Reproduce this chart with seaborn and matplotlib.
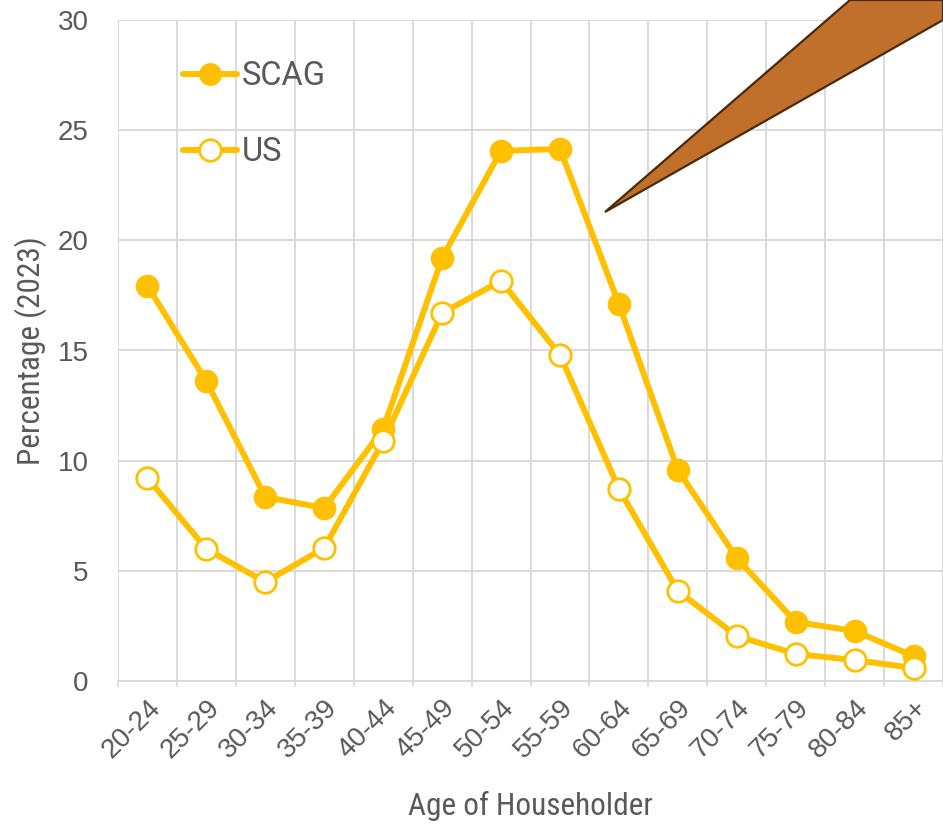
import matplotlib
matplotlib.use("Agg")
import matplotlib.pyplot as plt
from matplotlib.patches import Polygon
from matplotlib.lines import Line2D
import seaborn as sns
import pandas as pd

age_groups = ["20-24", "25-29", "30-34", "35-39", "40-44", "45-49", "50-54",
              "55-59", "60-64", "65-69", "70-74", "75-79", "80-84", "85+"]
scag = [17.93, 13.6, 8.35, 7.85, 11.44, 19.2, 24.06, 24.15, 17.11, 9.58, 5.58, 2.68, 2.27, 1.13]
us = [9.21, 5.99, 4.49, 6.04, 10.89, 16.7, 18.16, 14.8, 8.72, 4.09, 2.04, 1.23, 0.95, 0.59]
y_ticks = [0, 5, 10, 15, 20, 25, 30]

sns.set_theme(style="white")
plt.rcParams['font.family'] = ['Liberation Sans', 'DejaVu Sans']

gold = "#FFC000"
txt = "#595959"
grid = "#D9D9D9"
LW = 4.3
MS = 15.5

fig = plt.figure(figsize=(9.43, 8.3), dpi=100)
W, H = 943, 830
ax = fig.add_axes([118 / W, 1 - 681 / H, (943 - 118) / W, (681 - 20) / H])

df_scag = pd.DataFrame({"age": age_groups, "pct": scag})
df_us = pd.DataFrame({"age": age_groups, "pct": us})

sns.lineplot(data=df_scag, x="age", y="pct", ax=ax, color=gold, lw=LW,
             marker="o", markersize=MS, markerfacecolor=gold,
             markeredgecolor=gold, markeredgewidth=1.5, sort=False, zorder=4)
sns.lineplot(data=df_us, x="age", y="pct", ax=ax, color=gold, lw=LW,
             marker="o", markersize=MS, markerfacecolor="white",
             markeredgecolor=gold, markeredgewidth=2.0, sort=False, zorder=5)

n = len(age_groups)
ax.set_xlim(-0.5, n - 0.5)
ax.set_ylim(0, 30)
ax.set_yticks(y_ticks)
ax.set_xticks(range(n))
ax.set_xticklabels(age_groups, rotation=45, ha="right", rotation_mode="anchor")
ax.set_xticks([k - 0.5 for k in range(n + 1)], minor=True)

ax.tick_params(axis="x", which="major", length=0, pad=10, labelsize=20, labelcolor=txt)
ax.tick_params(axis="x", which="minor", length=4, width=1.2, color=grid, bottom=True)
ax.tick_params(axis="y", length=0, pad=21, labelsize=20, labelcolor=txt)

for v in y_ticks:
    ax.axhline(v, color=grid, lw=1.4, zorder=0)
for k in range(n + 1):
    ax.axvline(k - 0.5, color=grid, lw=1.4, zorder=0)

for s in ["top", "right", "left"]:
    ax.spines[s].set_visible(False)
ax.spines["bottom"].set_color(grid)
ax.spines["bottom"].set_linewidth(1.4)

cond = ['Liberation Sans Narrow', 'Roboto Condensed', 'Liberation Sans', 'DejaVu Sans']
ax.set_xlabel("Age of Householder", fontsize=22.5, color=txt, family=cond, labelpad=20)
ax.set_ylabel("Percentage (2023)", fontsize=22.5, color=txt, family=cond, labelpad=8)

handles = [
    Line2D([], [], color=gold, lw=LW, marker="o", markersize=MS,
           markerfacecolor=gold, markeredgecolor=gold),
    Line2D([], [], color=gold, lw=LW, marker="o", markersize=MS,
           markerfacecolor="white", markeredgecolor=gold, markeredgewidth=2.0),
]
leg = ax.legend(handles, ["SCAG", "US"], loc="upper left",
                bbox_to_anchor=(65 / 825, 1 - 40 / 661), frameon=False,
                prop={"family": "Roboto", "size": 23.5}, labelspacing=1.35,
                handlelength=1.65, handletextpad=0.15, borderaxespad=0,
                borderpad=0)
for t in leg.get_texts():
    t.set_color(txt)

pts = [(605, 212), (850, 0), (943, 0), (943, 20)]
poly = Polygon([(x / W, 1 - y / H) for x, y in pts], closed=True,
               transform=fig.transFigure, facecolor="#C0702A",
               edgecolor="#4A2A0C", linewidth=1.6, zorder=10)
fig.patches.append(poly)

fig.savefig("out.png", dpi=100)
